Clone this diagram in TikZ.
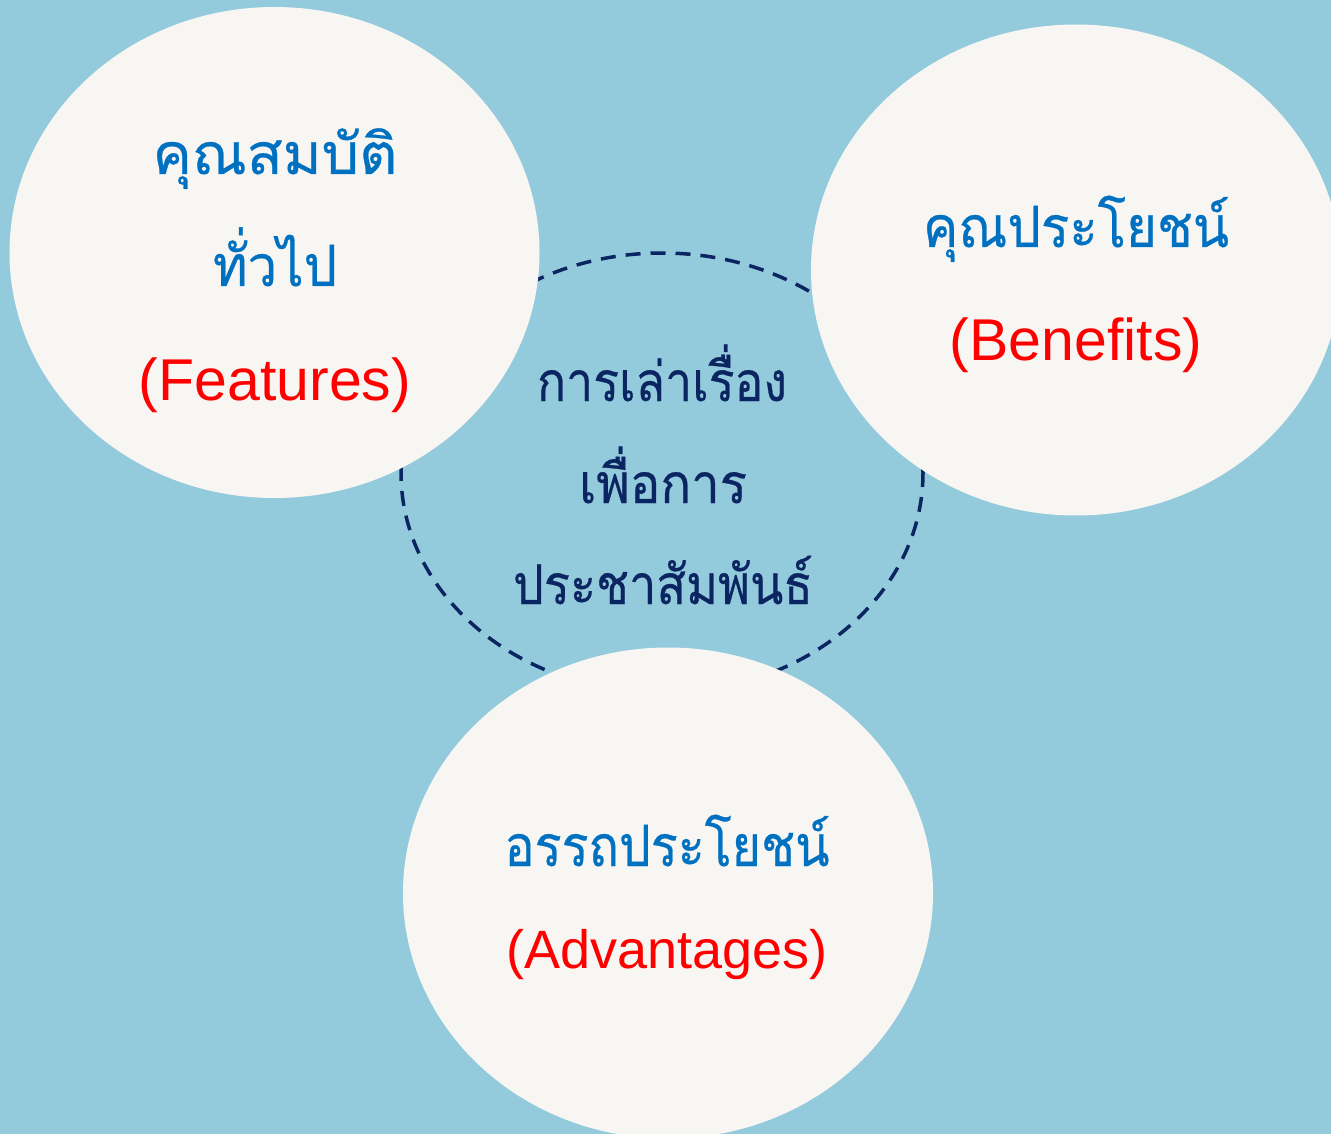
\documentclass[tikz,border=0pt]{standalone}
\usepackage{graphicx}
\usepackage{fontspec}
\setmainfont{Liberation Sans}
\newfontfamily\thaifont[Script=Thai,FakeBold=0.5]{Loma}
\usetikzlibrary{shapes.geometric}
\definecolor{bgblue}{HTML}{94CBDC}
\definecolor{paper}{HTML}{F8F6F3}
\definecolor{thaiblue}{HTML}{0070C0}
\definecolor{engred}{HTML}{FF0000}
\definecolor{navy}{HTML}{0A2561}
\newcommand{\fitw}[2]{\resizebox{#1}{\height}{#2}}
\tikzset{
  bubble/.style={ellipse, fill=paper, draw=none, minimum width=530pt, minimum height=491pt, inner sep=0pt},
  ring/.style={ellipse, draw=navy, line width=3.5pt, dash pattern=on 15pt off 10pt, minimum width=522pt, minimum height=440pt, inner sep=0pt},
  thaibig/.style={anchor=base, text=thaiblue, font=\thaifont\fontsize{57}{60}\selectfont, inner sep=0pt},
  thaictr/.style={anchor=base, text=navy, font=\thaifont\fontsize{55}{58}\selectfont, inner sep=0pt},
  eng/.style={anchor=base, text=engred, font=\fontsize{59}{64}\selectfont, inner sep=0pt},
}
\begin{document}
\begin{tikzpicture}[x=1pt,y=-1pt]
\path[fill=bgblue, use as bounding box] (0,0) rectangle (1331,1134);
\clip (0,0) rectangle (1331,1134);
\node[ring] (ring) at (662,473) {};
\node[bubble] (feat) at (274.5,252.5) {};
\node[bubble] (bene) at (1076,270) {};
\node[bubble] (adv) at (668,893) {};
% Features
\node[thaibig] (f1) at (275,174) {\fitw{245pt}{คุณสมบัติ}};
\node[thaibig] (f2) at (275,286) {\fitw{124pt}{ทั่วไป}};
\node[eng] (f3) at (275,400) {(Features)};
% Benefits
\node[thaibig] (b1) at (1076,247) {\fitw{306pt}{คุณประโยชน์}};
\node[eng] (b2) at (1076,360) {(Benefits)};
% Advantages
\node[thaibig] (a1) at (667,866) {\fitw{325pt}{อรรถประโยชน์}};
\node[eng, font=\fontsize{54}{58}\selectfont] (a2) at (667,968) {(Advantages)};
% centre
\node[thaictr] (c1) at (662,401) {\fitw{250pt}{การเล่าเรื่อง}};
\node[thaictr] (c2) at (663,503) {\fitw{168pt}{เพื่อการ}};
\node[thaictr] (c3) at (663,604) {\fitw{300pt}{ประชาสัมพันธ์}};
\end{tikzpicture}
\end{document}
